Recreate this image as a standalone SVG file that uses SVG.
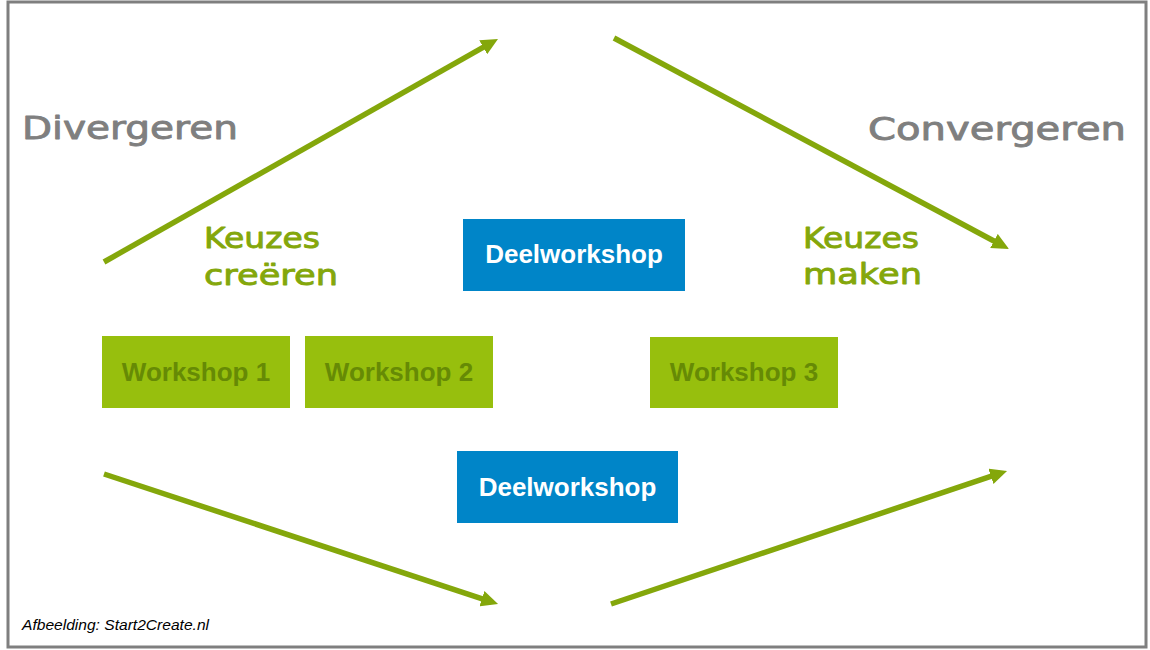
<svg xmlns="http://www.w3.org/2000/svg" width="1150" height="650" viewBox="0 0 1150 650">
<style>
.frame{fill:#ffffff;stroke:#7f7f7f;stroke-width:3}
.arrow{stroke:#84a70b;stroke-width:5.5;fill:none}
.ws rect{fill:#97bf0d}
.ws text{fill:#668a05;font-family:"Liberation Sans",Arial,sans-serif;font-weight:bold;font-size:26px;text-anchor:middle}
.dw rect{fill:#0085c8}
.dw text{fill:#ffffff;font-family:"Liberation Sans",Arial,sans-serif;font-weight:bold;font-size:26px;text-anchor:middle}
.hand{font-family:"DejaVu Sans","Liberation Sans",sans-serif;stroke-width:0.9;stroke-linejoin:round}
.gray{fill:#7f7f7f;stroke:#7f7f7f;font-size:32px}
.green{fill:#84a70b;stroke:#84a70b;font-size:29px}
.credit{font-family:"Liberation Sans",Arial,sans-serif;font-style:italic;font-size:14.5px;fill:#000}
</style>
<defs>
<marker id="ah" viewBox="0 -8 17 16" markerWidth="17" markerHeight="16" refX="10" refY="0" orient="auto" markerUnits="userSpaceOnUse">
<path d="M0,-8 L17,0 L0,8 z" fill="#84a70b"/>
</marker>
</defs>
<rect class="frame" x="8" y="2" width="1138" height="645"/>
<g id="connectors">
<line class="arrow" x1="104" y1="262" x2="491.9" y2="42.4" marker-end="url(#ah)"/>
<line class="arrow" x1="614" y1="38" x2="1002.8" y2="245.7" marker-end="url(#ah)"/>
<line class="arrow" x1="104" y1="474" x2="491.4" y2="601.8" marker-end="url(#ah)"/>
<line class="arrow" x1="611" y1="604" x2="1000.4" y2="473.2" marker-end="url(#ah)"/>
</g>
<g id="label-divergeren"><text class="hand gray" x="22" y="139" textLength="216" lengthAdjust="spacingAndGlyphs">Divergeren</text></g>
<g id="label-convergeren"><text class="hand gray" x="868" y="140" textLength="258" lengthAdjust="spacingAndGlyphs">Convergeren</text></g>
<g id="label-keuzes-creeren">
<text class="hand green" x="204" y="248" textLength="116" lengthAdjust="spacingAndGlyphs">Keuzes</text>
<text class="hand green" x="204" y="285" textLength="134" lengthAdjust="spacingAndGlyphs">creëren</text>
</g>
<g id="label-keuzes-maken">
<text class="hand green" x="803" y="248" textLength="116" lengthAdjust="spacingAndGlyphs">Keuzes</text>
<text class="hand green" x="803" y="284" textLength="119" lengthAdjust="spacingAndGlyphs">maken</text>
</g>
<g id="deelworkshop-top" class="dw"><rect x="463" y="219" width="222" height="72"/><text x="574" y="263">Deelworkshop</text></g>
<g id="workshop-1" class="ws"><rect x="102" y="336" width="188" height="72"/><text x="196" y="381">Workshop 1</text></g>
<g id="workshop-2" class="ws"><rect x="305" y="336" width="188" height="72"/><text x="399" y="381">Workshop 2</text></g>
<g id="workshop-3" class="ws"><rect x="650" y="337" width="188" height="71"/><text x="744" y="381">Workshop 3</text></g>
<g id="deelworkshop-bottom" class="dw"><rect x="457" y="451" width="221" height="72"/><text x="567.5" y="496">Deelworkshop</text></g>
<g id="credit"><text class="credit" x="22" y="630" textLength="187" lengthAdjust="spacingAndGlyphs">Afbeelding: Start2Create.nl</text></g>
</svg>
